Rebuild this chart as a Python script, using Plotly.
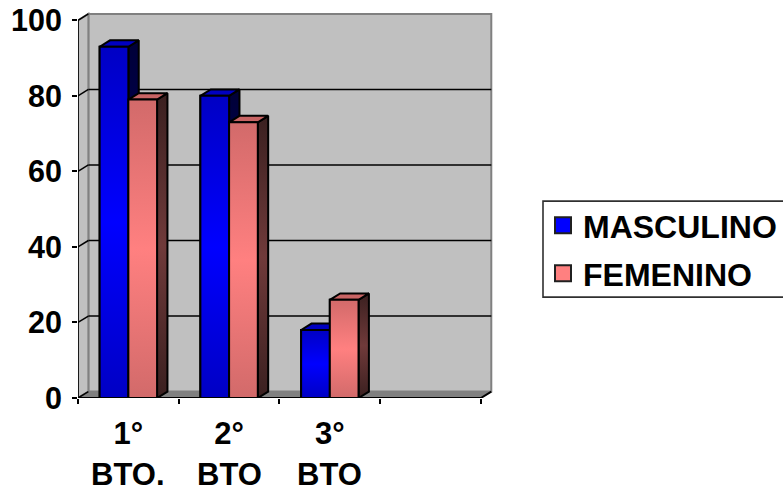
import plotly.graph_objects as go

# ---- data ----
categories = ["1°", "2°", "3°"]
second_line = ["BTO.", "BTO", "BTO"]
masculino = [93, 80, 18]
femenino = [79, 73, 26]
y_ticks = [0, 20, 40, 60, 80, 100]

# ---- style / geometry ----
FONT = "Liberation Sans"
DX, DY = 0.103, 1.7          # 3-D depth in data units
BAR_W = 0.285
slots = [0, 1, 2, 3, 4]
X_MAX, Y_MAX = 4.12, 102.2
centers = [i + 0.5 for i in range(len(categories))]
W, H = 783, 491
M_L, M_R, M_T, M_B = 78, 290, 11.7, 93
PW, PH = W - M_L - M_R, H - M_T - M_B

fig = go.Figure()

def poly(pts):
    return "M" + "L".join(f"{x},{y}" for x, y in pts) + "Z"

W_X, W_Y = 4 + DX, 100 + DY
shapes = [
    dict(type="path", path=poly([(DX, DY), (W_X, DY), (W_X, W_Y), (DX, W_Y)]),
         fillcolor="#C0C0C0", line=dict(color="#808080", width=2), layer="below"),
    dict(type="path", path=poly([(0, 0), (DX, DY), (DX, W_Y), (0, 100)]),
         fillcolor="#C0C0C0", line=dict(color="#808080", width=2), layer="below"),
    dict(type="path", path=poly([(0, 0), (4, 0), (W_X, DY), (DX, DY)]),
         fillcolor="#808080", line=dict(color="#808080", width=1), layer="below"),
    # legend frame, open past the right edge of the page
    dict(type="rect", xref="paper", yref="paper",
         x0=(543 - M_L) / PW, x1=(800 - M_L) / PW,
         y0=1 - (297 - M_T) / PH, y1=1 - (201 - M_T) / PH,
         line=dict(color="#303030", width=1.6), fillcolor="white", layer="below"),
]
for t in y_ticks[1:-1]:
    shapes.append(dict(type="line", x0=DX, x1=W_X, y0=t + DY, y1=t + DY,
                       line=dict(color="black", width=1.6), layer="below"))
fig.update_layout(shapes=shapes)

def line_trace(xs, ys, width=2):
    fig.add_trace(go.Scatter(x=xs, y=ys, mode="lines", showlegend=False, hoverinfo="skip",
                             cliponaxis=False, line=dict(color="black", width=width)))

for t in y_ticks:
    line_trace([0, DX], [t, t + DY], 1.5)
line_trace([0, 0], [0, 100], 1.6)
line_trace([0, 4, W_X], [0, 0, DY], 2)

series = [
    dict(name="MASCULINO", values=masculino, offset=-BAR_W / 2,
         base="#0000FF", edge="#0000C4", top="#0000C0",
         side=["#000038", "#00005C", "#000038"]),
    dict(name="FEMENINO", values=femenino, offset=BAR_W / 2,
         base="#FF8080", edge="#D26A6A", top="#C86464",
         side=["#3A2020", "#703A3A", "#3A2020"]),
]

for s in series:
    fig.add_trace(go.Bar(x=[c + s["offset"] for c in centers], y=s["values"], width=BAR_W,
                         marker=dict(color=s["base"], line=dict(color="black", width=2)),
                         showlegend=False, name=s["name"]))

def scale3(colors):
    return [[0, colors[0]], [0.5, colors[1]], [1, colors[2]]]

def face(xs, ys, gradient=None, color=None):
    kw = dict(fillgradient=gradient) if gradient else dict(fillcolor=color)
    fig.add_trace(go.Scatter(x=xs, y=ys, mode="lines", fill="toself", showlegend=False,
                             hoverinfo="skip", cliponaxis=False,
                             line=dict(color="black", width=2), **kw))

for i, c in enumerate(centers):
    for s in series:
        v = s["values"][i]
        x0 = c + s["offset"] - BAR_W / 2
        x1 = x0 + BAR_W
        face([x1, x1 + DX, x1 + DX, x1, x1], [0, DY, v + DY, v, 0],
             gradient=dict(type="vertical", colorscale=scale3(s["side"])))
        face([x0, x0 + DX, x1 + DX, x1, x0], [v, v + DY, v + DY, v, v], color=s["top"])
        face([x0, x1, x1, x0, x0], [0, 0, v, v, 0],
             gradient=dict(type="vertical",
                           colorscale=scale3([s["edge"], s["base"], s["edge"]])))

# legend keys
for i, s in enumerate(series):
    fig.add_trace(go.Scatter(x=[None], y=[None], mode="markers", name=s["name"],
                             legendgroup=f"g{i}",
                             marker=dict(symbol="square", size=16, color=s["base"],
                                         line=dict(color="#202020", width=2))))

xfont = dict(family=FONT, size=31, color="black", weight="bold")
yfont = dict(family=FONT, size=30.5, color="black", weight="bold")
for c, t in zip(centers, second_line):
    fig.add_annotation(x=c, xref="x", y=1 - (475 - M_T) / PH, yref="paper", text=t,
                       showarrow=False, font=xfont, xanchor="center", yanchor="middle")

fig.update_layout(
    width=W, height=H,
    margin=dict(l=M_L, r=M_R, t=M_T, b=M_B, autoexpand=False),
    paper_bgcolor="white", plot_bgcolor="white",
    barmode="overlay",
    showlegend=True,
    legend=dict(xref="container", yref="container", x=543 / W, y=1 - 198 / H,
                xanchor="left", yanchor="top", tracegroupgap=3.4,
                bgcolor="rgba(0,0,0,0)", borderwidth=0,
                font=dict(family=FONT, size=32, color="black", weight="bold")),
    xaxis=dict(range=[0, X_MAX], tickmode="array", tickvals=centers, ticktext=categories,
               showgrid=False, zeroline=False, showline=False, ticks="",
               ticklabelstandoff=14, tickfont=xfont,
               minor=dict(tickmode="array", tickvals=slots, ticks="outside", ticklen=5,
                          tickwidth=1.6, tickcolor="black", showgrid=False)),
    yaxis=dict(range=[0, Y_MAX], tickmode="array", tickvals=y_ticks,
               showgrid=False, zeroline=False, showline=False, ticks="outside",
               ticklen=5, tickwidth=1.6, tickcolor="black",
               ticklabelstandoff=4, tickfont=yfont),
)

fig.write_html("out.html", config=dict(displayModeBar=False),
               post_script="document.body.style.margin='0';")
